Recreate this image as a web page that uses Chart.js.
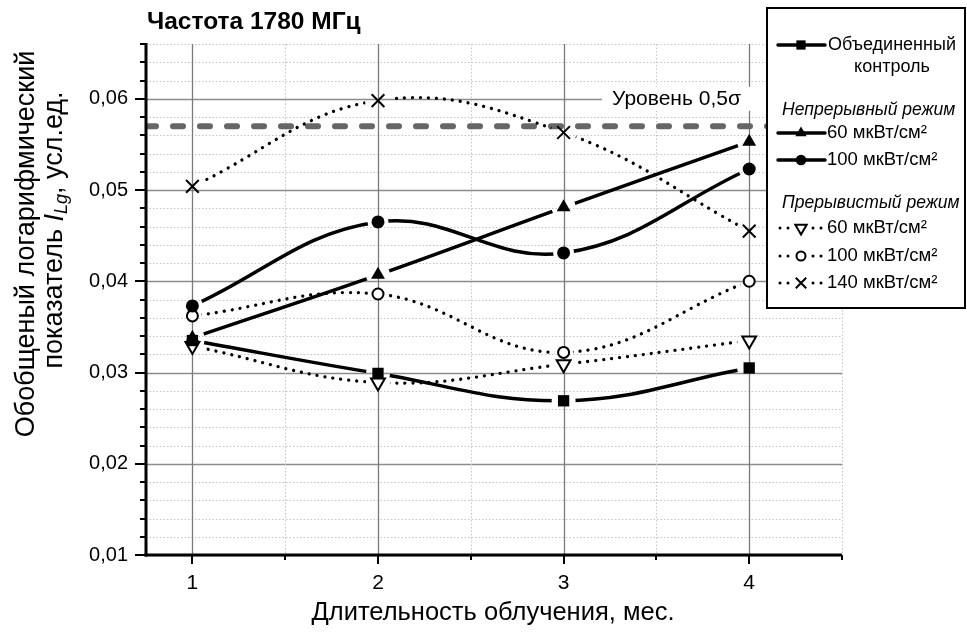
<!DOCTYPE html>
<html>
<head>
<meta charset="utf-8">
<script src="https://cdn.jsdelivr.net/npm/chart.js@4"></script>
<style>
  html, body { margin: 0; padding: 0; background: #fff; }
</style>
</head>
<body>
<canvas id="chart" width="967" height="635"></canvas>
<script>
const months = [1, 2, 3, 4];
const xTickValues = [1, 1.5, 2, 2.5, 3, 3.5, 4, 4.5];
const yMajorLabels = ["0,01", "0,02", "0,03", "0,04", "0,05", "0,06"];

// объединенный контроль
const control = [0.0335, 0.0299, 0.0269, 0.0305];
// непрерывный режим
const cw60 = [0.0338, 0.0407, 0.0481, 0.0553];
const cw100 = [0.0373, 0.0465, 0.0431, 0.0523];
// прерывистый режим
const pw60 = [0.0329, 0.0289, 0.0309, 0.0335];
const pw100 = [0.0362, 0.0386, 0.0322, 0.04];
const pw140 = [0.0504, 0.0598, 0.0563, 0.0455];

const levelValue = 0.057;
const levelLabel = "Уровень 0,5σ";

const FONT = "'Liberation Sans', Arial, sans-serif";
Chart.defaults.font.family = FONT;
Chart.defaults.color = "#000";

const pts = (vals) => months.map((m, i) => ({ x: m, y: vals[i] }));

function series(label, vals, marker, dotted) {
  return {
    label: label,
    data: pts(vals),
    borderColor: "#000",
    borderWidth: dotted ? 3.3 : 3.5,
    borderDash: dotted ? [0.01, 8] : [],
    borderCapStyle: "round",
    tension: 0.4,
    pointStyle: marker.style,
    rotation: marker.rotation || 0,
    pointRadius: marker.radius,
    pointBackgroundColor: marker.open ? "#fff" : "#000",
    pointBorderColor: "#000",
    pointBorderWidth: marker.open || marker.style === "crossRot" ? 2 : 0,
  };
}

const datasets = [
  series("Объединенный контроль", control, { style: "rect", radius: 8 }),
  series("60 мкВт/см²", cw60, { style: "triangle", radius: 8 }),
  series("100 мкВт/см²", cw100, { style: "circle", radius: 6.5 }),
  series("60 мкВт/см²", pw60, { style: "triangle", rotation: 180, radius: 8, open: true }, true),
  series("100 мкВт/см²", pw100, { style: "circle", radius: 5.5, open: true }, true),
  series("140 мкВт/см²", pw140, { style: "crossRot", radius: 9 }, true),
  {
    label: levelLabel,
    data: [{ x: 0.75, y: levelValue }, { x: 4.5, y: levelValue }],
    borderColor: "#666",
    borderWidth: 6,
    borderDash: [10, 17],
    borderCapStyle: "round",
    pointRadius: 0,
    tension: 0,
    order: 10,
  },
];

function seg(ctx, x1, y1, x2, y2) {
  ctx.beginPath();
  ctx.moveTo(x1, y1);
  ctx.lineTo(x2, y2);
  ctx.stroke();
}

const isMajorY = (v) => Math.abs(v * 100 - Math.round(v * 100)) < 1e-6;

// строки легенды после "Объединенный контроль"
const legendRows = [
  { heading: "Непрерывный режим", y: 110 },
  { index: 1, y: 133 },
  { index: 2, y: 160 },
  { heading: "Прерывистый режим", y: 203 },
  { index: 3, y: 228 },
  { index: 4, y: 256 },
  { index: 5, y: 283 },
];

// линия прерывается возле маркеров, маркеры рисуются заново поверх
const markerGaps = {
  id: "markerGaps",
  beforeDatasetDraw(chart, args) {
    const ds = chart.data.datasets[args.index];
    if (!ds.pointRadius) return;
    const ctx = chart.ctx;
    const gap = ds.pointRadius + 4;
    ctx.save();
    ctx.beginPath();
    ctx.rect(0, 0, chart.width, chart.height);
    args.meta.data.forEach((p) => {
      ctx.moveTo(p.x + gap, p.y);
      ctx.arc(p.x, p.y, gap, 0, Math.PI * 2, true);
    });
    ctx.clip("evenodd");
  },
  afterDatasetDraw(chart, args) {
    const ds = chart.data.datasets[args.index];
    if (!ds.pointRadius) return;
    chart.ctx.restore();
    args.meta.data.forEach((p) => p.draw(chart.ctx, chart.chartArea));
  },
};

const frame = {
  id: "frame",
  beforeDatasetsDraw(chart) {
    const { ctx, chartArea: a, scales } = chart;
    const x = scales.x, y = scales.y;
    ctx.save();
    y.ticks.forEach((t) => {
      const py = Math.round(y.getPixelForValue(t.value)) + 0.5;
      if (isMajorY(t.value)) {
        ctx.strokeStyle = "#8c8c8c";
        ctx.lineWidth = 1.3;
        ctx.setLineDash([]);
      } else {
        ctx.strokeStyle = "#c4c4c4";
        ctx.lineWidth = 1;
        ctx.setLineDash([1.5, 2]);
      }
      seg(ctx, a.left, py, a.right, py);
    });
    x.ticks.forEach((t) => {
      const px = Math.round(x.getPixelForValue(t.value)) + 0.5;
      if (Number.isInteger(t.value)) {
        ctx.strokeStyle = "#7a7a7a";
        ctx.lineWidth = 1.3;
        ctx.setLineDash([]);
      } else {
        ctx.strokeStyle = "#c4c4c4";
        ctx.lineWidth = 1;
        ctx.setLineDash([1.5, 2]);
      }
      seg(ctx, px, a.top, px, a.bottom);
    });

    // подпись уровня поверх линии сетки
    ctx.setLineDash([]);
    const ly = y.getPixelForValue(0.06);
    ctx.fillStyle = "#fff";
    ctx.fillRect(602, ly - 12, 170, 24);
    ctx.fillStyle = "#000";
    ctx.font = "21px " + FONT;
    ctx.textBaseline = "middle";
    ctx.fillText(levelLabel, 612, ly);
    ctx.restore();
  },
  afterDraw(chart) {
    const { ctx, chartArea: a, scales } = chart;
    const x = scales.x, y = scales.y;
    ctx.save();
    ctx.strokeStyle = "#000";
    ctx.setLineDash([]);

    // оси
    ctx.lineWidth = 3;
    seg(ctx, a.left, a.top - 1, a.left, a.bottom + 1.5);
    seg(ctx, a.left - 1.5, a.bottom, a.right, a.bottom);
    ctx.lineWidth = 2;
    y.ticks.forEach((t) => {
      const py = Math.round(y.getPixelForValue(t.value));
      const len = isMajorY(t.value) ? 11 : 6;
      seg(ctx, a.left, py, a.left - len, py);
    });
    x.ticks.forEach((t) => {
      const px = Math.round(x.getPixelForValue(t.value));
      const len = Number.isInteger(t.value) ? 9 : 5;
      seg(ctx, px, a.bottom, px, a.bottom + len);
    });

    // заголовок
    ctx.fillStyle = "#000";
    ctx.textBaseline = "middle";
    ctx.font = "bold 24.5px " + FONT;
    ctx.fillText("Частота 1780 МГц", 147, 22);

    // подпись оси X
    ctx.textAlign = "center";
    ctx.font = "25.5px " + FONT;
    ctx.fillText("Длительность облучения, мес.", 493, 613);

    // подпись оси Y (с индексом)
    ctx.save();
    ctx.rotate(-Math.PI / 2);
    ctx.font = "27px " + FONT;
    ctx.fillText("Обобщеный логарифмический", -244, 27);
    const parts = [
      { t: "показатель ", f: "27px " + FONT, dy: 0 },
      { t: "I", f: "italic 27px " + FONT, dy: 0 },
      { t: "Lg", f: "italic 18px " + FONT, dy: 7 },
      { t: ", усл.ед.", f: "27px " + FONT, dy: 0 },
    ];
    let total = 0;
    parts.forEach((p) => {
      ctx.font = p.f;
      p.w = ctx.measureText(p.t).width;
      total += p.w;
    });
    ctx.textAlign = "left";
    let cx = -230 - total / 2;
    parts.forEach((p) => {
      ctx.font = p.f;
      ctx.fillText(p.t, cx, 55 + p.dy);
      cx += p.w;
    });
    ctx.restore();

    // легенда
    ctx.fillStyle = "#fff";
    ctx.fillRect(767, 8, 198, 300);
    ctx.lineWidth = 2;
    ctx.strokeRect(767, 8, 198, 300);

    const drawSample = (ds, yy) => {
      ctx.strokeStyle = "#000";
      ctx.lineCap = "round";
      if (ds.borderDash.length) {
        ctx.lineWidth = 3;
        ctx.setLineDash([0.01, 8]);
        seg(ctx, 780, yy, 790, yy);
        seg(ctx, 813, yy, 823, yy);
      } else {
        ctx.lineWidth = 3.5;
        ctx.setLineDash([]);
        seg(ctx, 778, yy, 825, yy);
      }
      ctx.setLineDash([]);
      ctx.lineCap = "butt";
      ctx.fillStyle = ds.pointBackgroundColor;
      ctx.lineWidth = ds.pointBorderWidth;
      Chart.helpers.drawPoint(ctx, {
        pointStyle: ds.pointStyle,
        rotation: ds.rotation,
        radius: ds.pointRadius * 0.82,
        borderWidth: ds.pointBorderWidth,
      }, 801, yy);
    };

    const first = chart.data.datasets[0];
    drawSample(first, 45);
    ctx.fillStyle = "#000";
    ctx.textAlign = "center";
    ctx.font = "18px " + FONT;
    ctx.fillText("Объединенный", 892, 45);
    ctx.fillText("контроль", 892, 67);

    ctx.textAlign = "left";
    legendRows.forEach((r) => {
      if (r.heading) {
        ctx.fillStyle = "#000";
        ctx.font = "italic 17.5px " + FONT;
        ctx.fillText(r.heading, 782, r.y);
        return;
      }
      const ds = chart.data.datasets[r.index];
      drawSample(ds, r.y);
      ctx.fillStyle = "#000";
      ctx.font = "18.5px " + FONT;
      ctx.fillText(ds.label, 827, r.y);
    });
    ctx.restore();
  },
};

const ctx = document.getElementById("chart").getContext("2d");

new Chart(ctx, {
  type: "line",
  data: { datasets: datasets },
  options: {
    responsive: false,
    animation: false,
    devicePixelRatio: 1,
    events: [],
    layout: { padding: { top: 44, right: 125, left: 0, bottom: 0 } },
    scales: {
      x: {
        type: "linear",
        min: 0.75,
        max: 4.5,
        afterBuildTicks: (s) => {
          s.ticks = xTickValues.map((v) => ({ value: v }));
        },
        afterFit: (s) => {
          s.height = 80;
        },
        ticks: {
          autoSkip: false,
          maxRotation: 0,
          padding: 16,
          font: { size: 21 },
          callback: (v) => (Number.isInteger(v) ? String(v) : ""),
        },
        grid: { display: false, drawTicks: false },
        border: { display: false },
      },
      y: {
        min: 0.01,
        max: 0.066,
        afterFit: (s) => {
          s.width = 146;
        },
        ticks: {
          stepSize: 0.002,
          autoSkip: false,
          padding: 18,
          font: { size: 20 },
          callback: (v) => (isMajorY(v) ? yMajorLabels[Math.round(v * 100) - 1] : ""),
        },
        grid: { display: false, drawTicks: false },
        border: { display: false },
      },
    },
    plugins: {
      legend: { display: false },
      tooltip: { enabled: false },
    },
  },
  plugins: [frame, markerGaps],
});
</script>
</body>
</html>
